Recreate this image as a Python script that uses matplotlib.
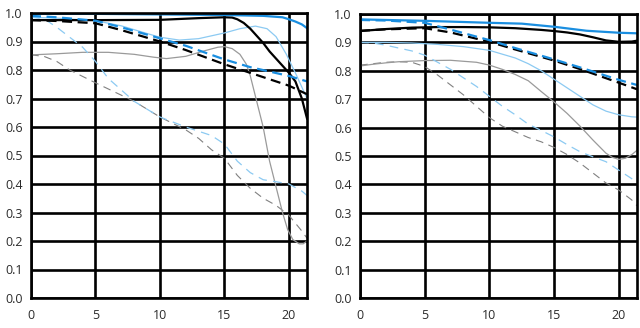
import matplotlib
matplotlib.use('Agg')
import matplotlib.pyplot as plt
import numpy as np

plt.rcParams['font.family'] = ['Open Sans', 'DejaVu Sans']

# image height (mm from centre) and MTF values, left chart
xl_blue_s = [0, 5, 10, 15, 18, 19.5, 20, 20.5, 21, 21.4]
yl_blue_s = [0.998, 0.997, 0.995, 0.993, 0.99, 0.985, 0.978, 0.97, 0.96, 0.947]
xl_black_s = [0, 5, 10, 13, 15, 15.6, 16, 16.5, 17, 17.5, 18, 18.5, 19, 19.5, 20, 20.5, 21, 21.4]
yl_black_s = [0.975, 0.975, 0.976, 0.982, 0.985, 0.984, 0.978, 0.965, 0.945, 0.92, 0.895, 0.865, 0.84, 0.815, 0.79, 0.76, 0.70, 0.63]
xl_blue_d = [0, 2, 5, 7, 10, 12, 15, 17, 20, 21.4]
yl_blue_d = [0.99, 0.985, 0.973, 0.95, 0.911, 0.885, 0.837, 0.81, 0.779, 0.76]
xl_black_d = [0, 2, 5, 7, 10, 12, 15, 17, 20, 21.4]
yl_black_d = [0.975, 0.972, 0.964, 0.94, 0.90, 0.87, 0.82, 0.79, 0.745, 0.715]
xl_lblue_s = [0, 2, 5, 7, 9, 10, 11.5, 13, 15, 16.2, 17.4, 18.3, 19, 19.8, 20.6, 21.1, 21.4]
yl_lblue_s = [0.985, 0.982, 0.973, 0.955, 0.928, 0.915, 0.905, 0.91, 0.93, 0.945, 0.954, 0.945, 0.917, 0.855, 0.78, 0.73, 0.70]
xl_lblue_d = [0, 1, 2, 4, 5, 6, 8, 10, 12, 14, 15, 16, 17, 18, 19, 20, 21, 21.4]
yl_lblue_d = [0.985, 0.98, 0.95, 0.88, 0.83, 0.77, 0.69, 0.635, 0.60, 0.57, 0.54, 0.48, 0.44, 0.415, 0.408, 0.40, 0.375, 0.36]
xl_grey_s = [0, 2, 4, 6, 8, 9.5, 10.5, 12, 13.5, 14.5, 15, 15.6, 16.2, 16.7, 17, 17.5, 18, 18.5, 19, 19.5, 19.9, 20.3, 20.8, 21.1, 21.4]
yl_grey_s = [0.853, 0.857, 0.862, 0.862, 0.855, 0.845, 0.84, 0.848, 0.868, 0.88, 0.882, 0.875, 0.855, 0.82, 0.78, 0.69, 0.60, 0.48, 0.39, 0.30, 0.24, 0.205, 0.19, 0.19, 0.20]
xl_grey_d = [0, 1, 2, 3, 5, 8, 10, 12, 13, 14, 15, 16, 17, 18, 19, 20, 21, 21.4]
yl_grey_d = [0.853, 0.848, 0.83, 0.80, 0.755, 0.69, 0.635, 0.59, 0.56, 0.52, 0.49, 0.43, 0.385, 0.35, 0.325, 0.29, 0.235, 0.21]

# right chart
xr_blue_s = [0, 5, 10, 12.5, 15, 17.5, 20, 21.4]
yr_blue_s = [0.981, 0.976, 0.969, 0.966, 0.955, 0.941, 0.934, 0.932]
xr_black_s = [0, 2, 4, 6, 8, 10, 12, 14, 15, 16, 17, 18, 19, 20, 21, 21.4]
yr_black_s = [0.94, 0.947, 0.952, 0.954, 0.954, 0.953, 0.95, 0.944, 0.94, 0.935, 0.928, 0.918, 0.907, 0.902, 0.903, 0.906]
xr_blue_d = [0, 2, 5, 7, 10, 12, 15, 17, 20, 21.4]
yr_blue_d = [0.979, 0.977, 0.969, 0.945, 0.908, 0.88, 0.84, 0.812, 0.768, 0.75]
xr_black_d = [0, 2, 5, 7, 10, 12, 15, 17, 20, 21.4]
yr_black_d = [0.941, 0.946, 0.95, 0.935, 0.902, 0.875, 0.836, 0.806, 0.758, 0.735]
xr_lblue_s = [0, 2, 4, 6, 8, 10, 12, 13, 14, 15, 16, 17, 18, 19, 20, 21, 21.4]
yr_lblue_s = [0.90, 0.90, 0.898, 0.893, 0.885, 0.872, 0.845, 0.825, 0.80, 0.77, 0.74, 0.71, 0.68, 0.658, 0.645, 0.638, 0.637]
xr_lblue_d = [0, 1, 2, 3, 4, 5, 7, 9, 10, 11, 12, 13, 14, 15, 16, 17, 18, 19, 20, 21, 21.4]
yr_lblue_d = [0.90, 0.898, 0.89, 0.88, 0.87, 0.855, 0.805, 0.745, 0.71, 0.675, 0.645, 0.612, 0.59, 0.567, 0.54, 0.515, 0.497, 0.48, 0.45, 0.42, 0.405]
xr_grey_s = [0, 1, 2, 3, 5, 7, 9, 10, 11, 12, 13, 14, 15, 16, 17, 18, 19, 19.5, 20, 20.5, 21, 21.4]
yr_grey_s = [0.817, 0.823, 0.828, 0.832, 0.836, 0.837, 0.83, 0.82, 0.805, 0.787, 0.765, 0.727, 0.69, 0.65, 0.605, 0.556, 0.51, 0.495, 0.488, 0.492, 0.505, 0.52]
xr_grey_d = [0, 1, 2, 3, 4, 5, 6, 7, 8, 9, 10, 11, 12, 13, 14, 15, 16, 17, 18, 19, 20, 21, 21.4]
yr_grey_d = [0.82, 0.825, 0.83, 0.832, 0.83, 0.815, 0.785, 0.75, 0.715, 0.675, 0.635, 0.605, 0.585, 0.565, 0.55, 0.53, 0.505, 0.475, 0.44, 0.405, 0.38, 0.345, 0.325]

xticks = [0, 5, 10, 15, 20]
yticks = [0.0, 0.1, 0.2, 0.3, 0.4, 0.5, 0.6, 0.7, 0.8, 0.9, 1.0]

BLUE = '#1a8ee0'
LBLUE = '#8ccaf2'
GREY = '#9a9a9a'
DGREY = '#808080'

fig = plt.figure(figsize=(6.4, 3.28), dpi=100)
ax1 = fig.add_axes([31 / 640, 30 / 328, 276 / 640, 285 / 328])
ax2 = fig.add_axes([360 / 640, 30 / 328, 277 / 640, 284 / 328])

panels = [
    (ax1, xl_blue_s, yl_blue_s, xl_black_s, yl_black_s, xl_blue_d, yl_blue_d, xl_black_d, yl_black_d,
     xl_lblue_s, yl_lblue_s, xl_lblue_d, yl_lblue_d, xl_grey_s, yl_grey_s, xl_grey_d, yl_grey_d),
    (ax2, xr_blue_s, yr_blue_s, xr_black_s, yr_black_s, xr_blue_d, yr_blue_d, xr_black_d, yr_black_d,
     xr_lblue_s, yr_lblue_s, xr_lblue_d, yr_lblue_d, xr_grey_s, yr_grey_s, xr_grey_d, yr_grey_d),
]

for p in panels:
    ax = p[0]
    # thin lines (30 lp/mm) first, thick (10 lp/mm) on top
    ax.plot(p[15], p[16], color=DGREY, lw=0.8, dashes=(7, 5))
    ax.plot(p[13], p[14], color=GREY, lw=0.9)
    ax.plot(p[11], p[12], color=LBLUE, lw=0.9, dashes=(7, 5))
    ax.plot(p[9], p[10], color=LBLUE, lw=0.9)
    ax.plot(p[7], p[8], color='black', lw=1.6, dashes=(4.5, 2.5))
    ax.plot(p[3], p[4], color='black', lw=1.6)
    ax.plot(p[5], p[6], color=BLUE, lw=1.6, dashes=(4.5, 2.5))
    ax.plot(p[1], p[2], color=BLUE, lw=1.6)

    ax.set_xlim(0, 21.4)
    ax.set_ylim(0, 1.0)
    ax.set_xticks(xticks)
    ax.set_yticks(yticks)
    ax.set_yticklabels(['%.1f' % v for v in yticks])
    ax.grid(True, color='black', lw=1.9)
    ax.set_axisbelow(True)
    for s in ax.spines.values():
        s.set_color('black')
        s.set_linewidth(1.9)
    ax.tick_params(length=0, labelsize=9, colors='#2b2b2b')
    ax.tick_params(axis='y', pad=6)
    ax.tick_params(axis='x', pad=8)

fig.savefig('out.png', dpi=100)
